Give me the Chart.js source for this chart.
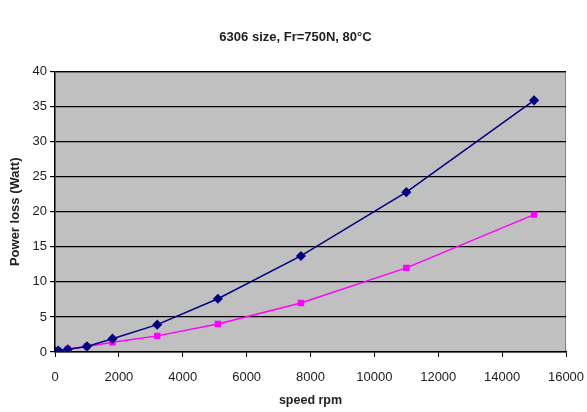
<!DOCTYPE html>
<html>
<head>
<meta charset="utf-8">
<script src="https://cdn.jsdelivr.net/npm/chart.js@4"></script>
<style>
  body { margin:0; background:#fff; }
  #wrap { width:587px; height:412px; }
</style>
</head>
<body>
<div id="wrap"><canvas id="perda"></canvas></div>
<script>
// dados
const velocidade = [0, 100, 400, 1000, 1800, 3200, 5100, 7700, 11000, 15000];
const serieA = [0.1, 0.2, 0.4, 0.8, 1.9, 3.9, 7.6, 13.7, 22.8, 35.9];
const serieB = [0.1, 0.2, 0.4, 0.8, 1.4, 2.3, 4.0, 7.0, 12.0, 19.6];
const yTicks = [0, 5, 10, 15, 20, 25, 30, 35, 40];
const xTicks = [0, 2000, 4000, 6000, 8000, 10000, 12000, 14000, 16000];

const pontos = (ys) => velocidade.map((x, i) => ({x: x, y: ys[i]}));

// fundo cinza da area do grafico
const fundo = {
  id: 'fundo',
  beforeDraw(chart) {
    const {ctx, chartArea: a} = chart;
    ctx.save();
    ctx.fillStyle = '#c0c0c0';
    ctx.fillRect(a.left, a.top, a.right - a.left, a.bottom - a.top);
    ctx.strokeStyle = '#808080';
    ctx.lineWidth = 1;
    ctx.beginPath();
    ctx.moveTo(a.left, a.top + 0.5);
    ctx.lineTo(a.right - 0.5, a.top + 0.5);
    ctx.lineTo(a.right - 0.5, a.bottom);
    ctx.stroke();
    ctx.restore();
  }
};

Chart.defaults.font.family = '"Liberation Sans", Arial, sans-serif';
Chart.defaults.color = '#222';

new Chart(document.getElementById('perda'), {
  type: 'line',
  data: {
    datasets: [
      { label: 'A', data: pontos(serieA), borderColor: '#000080', backgroundColor: '#000080',
        borderWidth: 1.5, pointStyle: 'rectRot', pointRadius: 4, tension: 0 },
      { label: 'B', data: pontos(serieB), borderColor: '#ff00ff', backgroundColor: '#ff00ff',
        borderWidth: 1.5, pointStyle: 'rect', pointRadius: 3.5, tension: 0 }
    ]
  },
  options: {
    responsive: true,
    maintainAspectRatio: false,
    animation: false,
    layout: { padding: { left: 4, right: 0, top: 0, bottom: 0 } },
    plugins: {
      legend: { display: false },
      tooltip: { enabled: false },
      title: { display: true, text: '6306 size, Fr=750N, 80°C',
        font: { size: 13, weight: 'bold' }, padding: { top: 30, bottom: 26 } }
    },
    scales: {
      x: {
        type: 'linear', min: 0, max: 16000,
        afterBuildTicks: (ax) => { ax.ticks = xTicks.map(v => ({value: v})); },
        afterFit: (ax) => { ax.height = 60; ax.paddingRight = 21; ax.paddingLeft = 0; },
        grid: { drawOnChartArea: false, tickColor: '#000', tickLength: 5 },
        border: { color: '#000', width: 1.5 },
        ticks: { font: { size: 13 }, padding: 13, maxRotation: 0, callback: (v) => v },
        title: { display: true, text: 'speed rpm', font: { size: 12.5, weight: 'bold' }, padding: { top: 4 } }
      },
      y: {
        min: 0, max: 40,
        afterBuildTicks: (ax) => { ax.ticks = yTicks.map(v => ({value: v})); },
        afterFit: (ax) => { ax.width = 51; },
        grid: { color: '#000', tickColor: '#000', tickLength: 5, lineWidth: 1.2 },
        border: { color: '#000', width: 1.5 },
        ticks: { font: { size: 13 }, padding: 3, callback: (v) => v },
        title: { display: true, text: 'Power loss (Watt)', font: { size: 13, weight: 'bold' }, padding: { bottom: 4 } }
      }
    }
  },
  plugins: [fundo]
});
</script>
</body>
</html>
